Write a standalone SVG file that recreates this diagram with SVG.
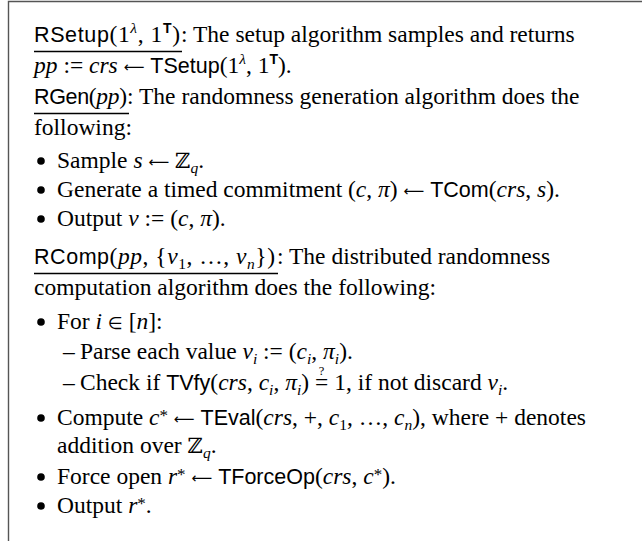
<svg xmlns="http://www.w3.org/2000/svg" width="642" height="541" viewBox="0 0 642 541">
<style>
text{font-family:"Liberation Serif","Times New Roman",serif;font-size:23.5px;fill:#000}
.sf{font-family:"Liberation Sans",Arial,sans-serif;font-size:21.5px}
.i{font-style:italic}
.s{font-size:15.5px}
.st{font-size:17px}
.sb{font-family:"Liberation Sans",Arial,sans-serif;font-size:14px;font-weight:bold}
.bb{font-family:"DejaVu Serif",serif;font-size:21px}
.ar{font-family:"DejaVu Sans",sans-serif;font-size:14.5px}
.el{font-family:"DejaVu Sans",sans-serif;font-size:17px}
.q{font-size:12.5px}
.ul{stroke:#000;stroke-width:1.3}
.frame{stroke:#555;stroke-width:1.4;fill:none}
.bul{fill:#000}
</style>
<rect width="642" height="541" fill="#fff"/>
<g id="frame"><path class="frame" d="M8.5,541 V1.5 H642"/></g>

<g id="rsetup">
<text x="34" y="42" textLength="146" lengthAdjust="spacing"><tspan class="sf">RSetup</tspan>(1<tspan class="s i" dy="-9">λ</tspan><tspan dy="9">, 1</tspan><tspan class="sb" dy="-9">T</tspan><tspan dy="9">)</tspan></text>
<line class="ul" x1="34" y1="51.5" x2="182" y2="51.5"/>
<text x="181" y="42">: The setup algorithm samples and returns</text>
<text x="34" y="73"><tspan class="i">pp</tspan> := <tspan class="i">crs</tspan> <tspan class="ar" dy="-1.5">⟵</tspan><tspan dy="1.5"> </tspan><tspan class="sf">TSetup</tspan>(1<tspan class="s i" dy="-9">λ</tspan><tspan dy="9">, 1</tspan><tspan class="sb" dy="-9">T</tspan><tspan dy="9">).</tspan></text>
</g>

<g id="rgen">
<text x="34" y="104" textLength="93" lengthAdjust="spacing"><tspan class="sf">RGen</tspan>(<tspan class="i">pp</tspan>)</text>
<line class="ul" x1="34" y1="113.5" x2="129" y2="113.5"/>
<text x="127" y="104">: The randomness generation algorithm does the</text>
<text x="34" y="135">following:</text>
<circle class="bul" cx="41" cy="161" r="3.8"/>
<text x="57" y="168">Sample <tspan class="i">s</tspan> <tspan class="ar" dy="-1.5">⟵</tspan><tspan dy="1.5"> </tspan><tspan class="bb">ℤ</tspan><tspan class="s i" dy="5">q</tspan><tspan dy="-5">.</tspan></text>
<circle class="bul" cx="41" cy="190" r="3.8"/>
<text x="57" y="197">Generate a timed commitment (<tspan class="i">c</tspan>, <tspan class="i">π</tspan>) <tspan class="ar" dy="-1.5">⟵</tspan><tspan dy="1.5"> </tspan><tspan class="sf">TCom</tspan>(<tspan class="i">crs</tspan>, <tspan class="i">s</tspan>).</text>
<circle class="bul" cx="41" cy="219" r="3.8"/>
<text x="57" y="226">Output <tspan class="i">v</tspan> := (<tspan class="i">c</tspan>, <tspan class="i">π</tspan>).</text>
</g>

<g id="rcomp">
<text x="34" y="264" textLength="241" lengthAdjust="spacing"><tspan class="sf">RComp</tspan>(<tspan class="i">pp</tspan>, {<tspan class="i">v</tspan><tspan class="s" dy="5">1</tspan><tspan dy="-5">, …, </tspan><tspan class="i">v</tspan><tspan class="s i" dy="5">n</tspan><tspan dy="-5">})</tspan></text>
<line class="ul" x1="34" y1="273.5" x2="278" y2="273.5"/>
<text x="277" y="264">: The distributed randomness</text>
<text x="34" y="295">computation algorithm does the following:</text>
<circle class="bul" cx="41" cy="322" r="3.8"/>
<text x="57" y="329">For <tspan class="i">i</tspan> <tspan class="el">∈</tspan> [<tspan class="i">n</tspan>]:</text>
<text x="63" y="359">–</text>
<text x="80" y="359">Parse each value <tspan class="i">v</tspan><tspan class="s i" dy="5">i</tspan><tspan dy="-5"> := (</tspan><tspan class="i">c</tspan><tspan class="s i" dy="5">i</tspan><tspan dy="-5">, </tspan><tspan class="i">π</tspan><tspan class="s i" dy="5">i</tspan><tspan dy="-5">).</tspan></text>
<text x="63" y="390">–</text>
<text x="80" y="390">Check if <tspan class="sf">TVfy</tspan>(<tspan class="i">crs</tspan>, <tspan class="i">c</tspan><tspan class="s i" dy="5">i</tspan><tspan dy="-5">, </tspan><tspan class="i">π</tspan><tspan class="s i" dy="5">i</tspan><tspan dy="-5">) </tspan><tspan class="q" dx="3.9" dy="-15">?</tspan><tspan dx="-9.4" dy="15">=</tspan> 1, if not discard <tspan class="i">v</tspan><tspan class="s i" dy="5">i</tspan><tspan dy="-5">.</tspan></text>
<circle class="bul" cx="41" cy="418" r="3.8"/>
<text x="57" y="425">Compute <tspan class="i">c</tspan><tspan class="st" dy="-4">*</tspan><tspan dy="4"> </tspan><tspan class="ar" dy="-1.5">⟵</tspan><tspan dy="1.5"> </tspan><tspan class="sf">TEval</tspan>(<tspan class="i">crs</tspan>, +, <tspan class="i">c</tspan><tspan class="s" dy="5">1</tspan><tspan dy="-5">, …, </tspan><tspan class="i">c</tspan><tspan class="s i" dy="5">n</tspan><tspan dy="-5">), where + denotes</tspan></text>
<text x="57" y="453">addition over <tspan class="bb">ℤ</tspan><tspan class="s i" dy="5">q</tspan><tspan dy="-5">.</tspan></text>
<circle class="bul" cx="41" cy="477" r="3.8"/>
<text x="57" y="484">Force open <tspan class="i">r</tspan><tspan class="st" dy="-4">*</tspan><tspan dy="4"> </tspan><tspan class="ar" dy="-1.5">⟵</tspan><tspan dy="1.5"> </tspan><tspan class="sf">TForceOp</tspan>(<tspan class="i">crs</tspan>, <tspan class="i">c</tspan><tspan class="st" dy="-4">*</tspan><tspan dy="4">).</tspan></text>
<circle class="bul" cx="41" cy="506" r="3.8"/>
<text x="57" y="513">Output <tspan class="i">r</tspan><tspan class="st" dy="-4">*</tspan><tspan dy="4">.</tspan></text>
</g>
</svg>
